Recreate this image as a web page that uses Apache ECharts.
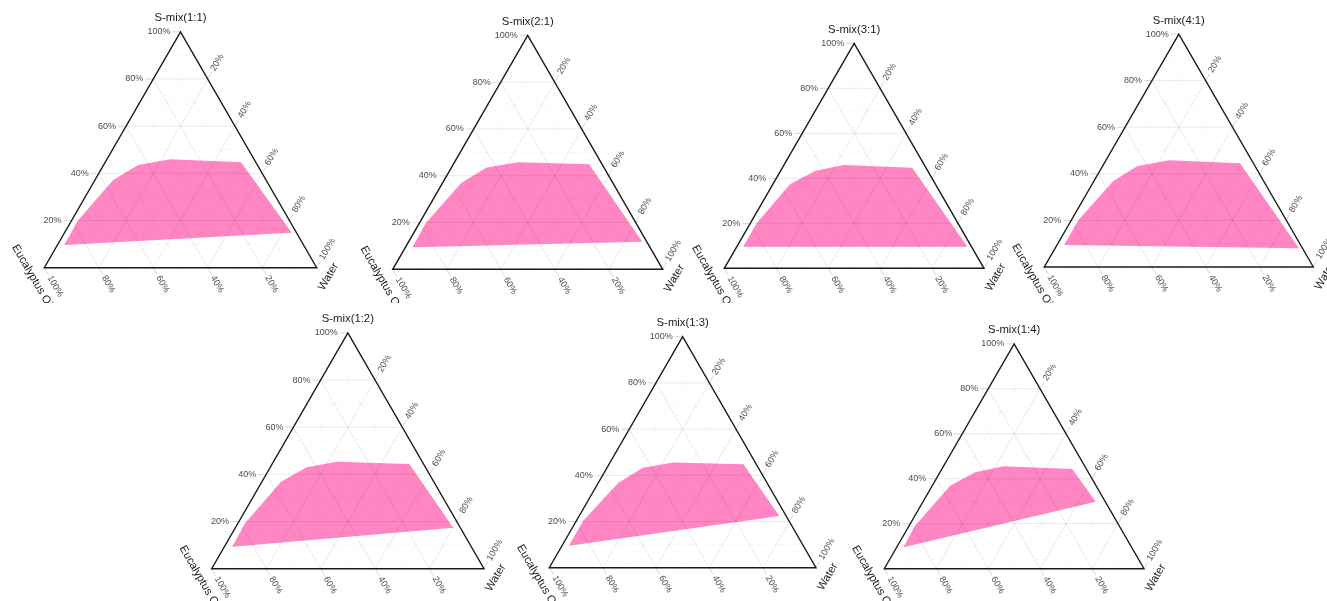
<!DOCTYPE html>
<html>
<head>
<meta charset="utf-8">
<script src="https://cdn.jsdelivr.net/npm/echarts@6/dist/echarts.min.js"></script>
<style>
html,body{margin:0;padding:0;width:1327px;height:601px;overflow:hidden;background:#ffffff;}
.panel{position:absolute;}
</style>
</head>
<body>
<script>
// ---------------- DATA ----------------
const panelTitles = ['S-mix(1:1)', 'S-mix(2:1)', 'S-mix(3:1)', 'S-mix(4:1)', 'S-mix(1:2)', 'S-mix(1:3)', 'S-mix(1:4)'];
const oilTitle = 'Eucalyptus Oil';
const waterTitle = 'Water';
const tickValues = [20, 40, 60, 80, 100];
const tickLabels = ['20%', '40%', '60%', '80%', '100%'];
const gridLevels = [10, 20, 30, 40, 50, 60, 70, 80, 90];

// Region boundary points: [S-mix %, Water %, Eucalyptus Oil %]
const region_1_1 = [[9.6, 2.5, 87.9], [20.2, 2.4, 77.4], [37.2, 6.7, 56.1], [43.5, 12.7, 43.8], [46.0, 23.2, 30.8], [44.7, 49.9, 5.4], [14.8, 83.4, 1.8]];
const region_2_1 = [[9.4, 2.6, 88.0], [19.9, 2.4, 77.7], [37.0, 7.0, 56.0], [43.5, 13.1, 43.4], [45.8, 23.4, 30.8], [44.9, 50.3, 4.8], [11.8, 86.5, 1.7]];
const region_3_1 = [[9.6, 2.5, 87.9], [20.0, 2.5, 77.5], [37.4, 6.6, 56.0], [43.3, 13.3, 43.4], [45.9, 22.9, 31.2], [44.7, 50.0, 5.3], [9.6, 88.8, 1.6]];
const region_4_1 = [[9.4, 2.7, 87.9], [20.2, 2.6, 77.2], [36.9, 7.2, 55.9], [43.4, 13.0, 43.6], [45.8, 23.5, 30.7], [44.5, 50.5, 5.0], [8.0, 90.7, 1.3]];
const region_1_2 = [[9.3, 2.9, 87.8], [19.3, 2.6, 78.1], [36.9, 7.0, 56.1], [43.0, 13.4, 43.6], [45.4, 23.2, 31.4], [44.4, 50.4, 5.2], [17.4, 80.0, 2.6]];
const region_1_3 = [[9.5, 2.6, 87.9], [20.4, 2.6, 77.0], [36.8, 7.5, 55.7], [43.3, 13.4, 43.3], [45.6, 23.7, 30.7], [44.8, 50.4, 4.8], [22.4, 75.0, 2.6]];
const region_1_4 = [[9.5, 2.6, 87.9], [19.1, 2.3, 78.6], [36.9, 6.9, 56.2], [42.9, 13.5, 43.6], [45.5, 23.1, 31.4], [44.3, 50.2, 5.5], [29.8, 66.5, 3.7]];
const regions = [region_1_1, region_2_1, region_3_1, region_4_1, region_1_2, region_1_3, region_1_4];

// ---------------- LAYOUT ----------------
const layout = [
  { bx: 44.3, by: 267.7, w: 272.4, row: 0 },
  { bx: 392.7, by: 269.3, w: 270.0, row: 0 },
  { bx: 724.3, by: 268.3, w: 259.7, row: 0 },
  { bx: 1044.3, by: 267.0, w: 269.0, row: 0 },
  { bx: 211.7, by: 568.7, w: 272.3, row: 1 },
  { bx: 549.3, by: 567.7, w: 266.7, row: 1 },
  { bx: 884.3, by: 568.7, w: 259.7, row: 1 }
];
const rows = [{ top: 0, h: 303 }, { top: 303, h: 298 }];

const SQ3 = Math.sqrt(3);
const FONT = "'Liberation Sans', Arial, Helvetica, sans-serif";
// ternary composition (S-mix, Water, Oil) -> cartesian data coordinates
function tern(s, w, o) {
  const t = s + w + o;
  return [(w + s / 2) / t, (s / t) * SQ3 / 2];
}

// grid line segments
function gridSegments() {
  const segs = [];
  gridLevels.forEach(function (v) {
    const major = v % 20 === 0 ? 1 : 0;
    const a1 = tern(v, 0, 100 - v), a2 = tern(v, 100 - v, 0);        // S-mix constant
    const b1 = tern(0, v, 100 - v), b2 = tern(100 - v, v, 0);        // Water constant
    const c1 = tern(0, 100 - v, v), c2 = tern(100 - v, 0, v);        // Oil constant
    segs.push([a1[0], a1[1], a2[0], a2[1], major]);
    segs.push([b1[0], b1[1], b2[0], b2[1], major]);
    segs.push([c1[0], c1[1], c2[0], c2[1], major]);
  });
  return segs;
}

// ticks: [x, y, axis(0 smix left, 1 water right, 2 oil bottom), labelIndex]
function tickData() {
  const d = [];
  tickValues.forEach(function (v, k) {
    const a = tern(v, 0, 100 - v); d.push([a[0], a[1], 0, k]);
    const b = tern(100 - v, v, 0); d.push([b[0], b[1], 1, k]);
    const c = tern(0, 100 - v, v); d.push([c[0], c[1], 2, k]);
  });
  return d;
}

const TICK_LEN = 8;
const dirs = [[-1, 0], [0.5, -SQ3 / 2], [0.5, SQ3 / 2]];

function buildPanel(i) {
  const L = layout[i], R = rows[L.row];
  const left = Math.floor(L.bx - 60);
  const width = Math.ceil(L.w + 120);
  const div = document.createElement('div');
  div.className = 'panel';
  div.style.left = left + 'px';
  div.style.top = R.top + 'px';
  div.style.width = width + 'px';
  div.style.height = R.h + 'px';
  document.body.appendChild(div);
  const chart = echarts.init(div, null, { renderer: 'canvas', width: width, height: R.h });
  const h = L.w * SQ3 / 2;
  const region = regions[i];
  const vBL = tern(0, 0, 100), vBR = tern(0, 100, 0), vT = tern(100, 0, 0);

  const option = {
    animation: false,
    grid: { left: L.bx - left, top: L.by - h - R.top, width: L.w, height: h, outerBoundsMode: 'none', containLabel: false },
    xAxis: { type: 'value', min: 0, max: 1, show: false },
    yAxis: { type: 'value', min: 0, max: SQ3 / 2, show: false },
    series: [
      { // region polygon
        type: 'custom', z: 1, silent: true, clip: false,
        data: [[0.5, 0.3]],
        renderItem: function (p, api) {
          return {
            type: 'polygon',
            shape: { points: region.map(function (r) { return api.coord(tern(r[0], r[1], r[2])); }) },
            style: { fill: 'rgba(255,100,178,0.78)', stroke: null }
          };
        }
      },
      { // grid lines
        type: 'custom', z: 2, silent: true, clip: false,
        data: gridSegments(),
        renderItem: function (p, api) {
          const p1 = api.coord([api.value(0), api.value(1)]);
          const p2 = api.coord([api.value(2), api.value(3)]);
          const major = api.value(4) === 1;
          return {
            type: 'line',
            shape: { x1: p1[0], y1: p1[1], x2: p2[0], y2: p2[1] },
            style: { stroke: major ? 'rgba(0,0,0,0.085)' : 'rgba(0,0,0,0.04)', lineWidth: major ? 1 : 0.8 }
          };
        }
      },
      { // ticks and tick labels
        type: 'custom', z: 3, silent: true, clip: false,
        data: tickData(),
        renderItem: function (p, api) {
          const pt = api.coord([api.value(0), api.value(1)]);
          const ax = api.value(2), k = api.value(3);
          const d = dirs[ax];
          const ex = pt[0] + d[0] * TICK_LEN, ey = pt[1] + d[1] * TICK_LEN;
          const gap = 2;
          const lx = ex + d[0] * gap, ly = ey + d[1] * gap;
          return {
            type: 'group',
            children: [
              { type: 'line', shape: { x1: pt[0], y1: pt[1], x2: ex, y2: ey }, style: { stroke: '#d6d6d6', lineWidth: 1 } },
              {
                type: 'text', x: lx, y: ly,
                rotation: ax === 0 ? 0 : (ax === 1 ? Math.PI / 3 : -Math.PI / 3),
                style: {
                  text: tickLabels[k], fill: '#4d4d4d', fontSize: 9, fontFamily: FONT,
                  align: ax === 0 ? 'right' : 'left', verticalAlign: 'middle'
                }
              }
            ]
          };
        }
      },
      { // triangle border
        type: 'custom', z: 4, silent: true, clip: false,
        data: [[0.5, 0.3]],
        renderItem: function (p, api) {
          return {
            type: 'polygon',
            shape: { points: [api.coord(vBL), api.coord(vBR), api.coord(vT)] },
            style: { fill: null, stroke: '#1a1a1a', lineWidth: 1.4 }
          };
        }
      },
      { // vertex titles
        type: 'custom', z: 5, silent: true, clip: false,
        data: [[vT[0], vT[1], 0], [vBL[0], vBL[1], 1], [vBR[0], vBR[1], 2]],
        renderItem: function (p, api) {
          const pt = api.coord([api.value(0), api.value(1)]);
          const k = api.value(2);
          const texts = [panelTitles[i], oilTitle, waterTitle];
          const off = [[0, -13.5], [-11.7, 9], [11.7, 9]];
          const rot = [0, -Math.PI / 3, Math.PI / 3];
          return {
            type: 'text', x: pt[0] + off[k][0], y: pt[1] + off[k][1], rotation: rot[k],
            style: { text: texts[k], fill: '#1a1a1a', fontSize: 11.3, fontFamily: FONT, align: 'center', verticalAlign: 'middle' }
          };
        }
      }
    ]
  };
  chart.setOption(option);
}

for (let i = 0; i < layout.length; i++) buildPanel(i);
</script>
</body>
</html>
